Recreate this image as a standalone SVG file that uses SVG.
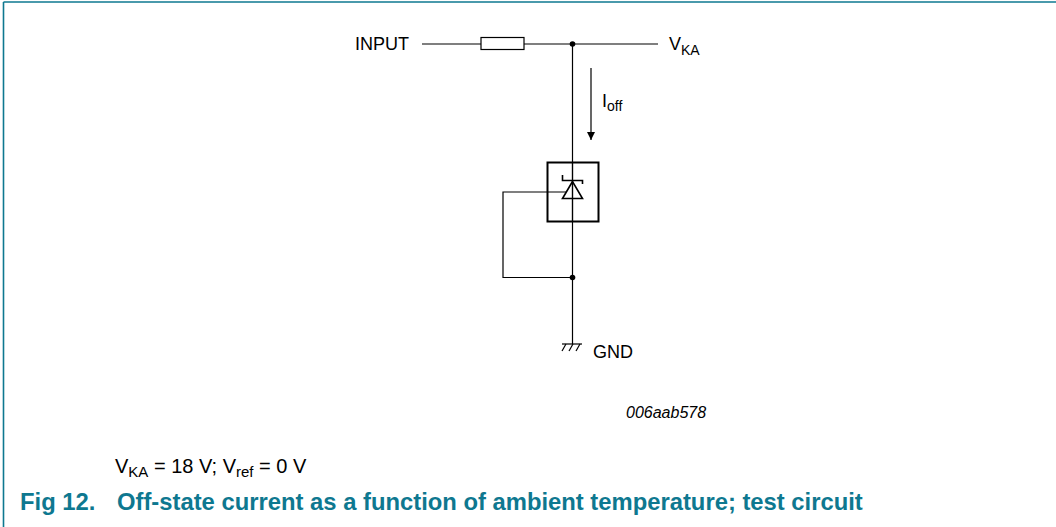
<svg xmlns="http://www.w3.org/2000/svg" width="1056" height="527" viewBox="0 0 1056 527">
<style>
.w{fill:none;stroke:#000;stroke-width:1.2}
.lbl{font-family:"Liberation Sans",Arial,sans-serif;font-size:18px;fill:#000}
.sub{font-size:14px}
.cap{font-family:"Liberation Sans",Arial,sans-serif;font-size:23.8px;font-weight:bold;fill:#0e7890}
.dot{fill:#000}
</style>
<defs>
<marker id="ah" viewBox="0 0 8 10" refX="8" refY="5" markerWidth="8" markerHeight="10" markerUnits="userSpaceOnUse" orient="auto">
<path d="M0,1 L8,5 L0,9 Z" fill="#000"/>
</marker>
</defs>
<rect x="0" y="0" width="1056" height="527" fill="#fff"/>
<g id="frame" fill="none" stroke="#0e7890" stroke-width="1.6">
<line x1="3.5" y1="2" x2="1056" y2="2"/>
<line x1="3.5" y1="2" x2="3.5" y2="527"/>
</g>
<g id="connectors">
<line class="w" x1="422" y1="44" x2="481" y2="44"/>
<line class="w" x1="524" y1="44" x2="658" y2="44"/>
<line class="w" x1="572.5" y1="44" x2="572.5" y2="344"/>
<polyline class="w" points="566,192 503,192 503,277.5 572.5,277.5"/>
<line class="w" x1="591" y1="68" x2="591" y2="140" marker-end="url(#ah)"/>
</g>
<g id="resistor">
<rect x="481" y="37.5" width="43" height="12" fill="#fff" stroke="#000" stroke-width="1.2"/>
</g>
<g id="junctions">
<circle class="dot" cx="572.5" cy="44" r="2.8"/>
<circle class="dot" cx="572.5" cy="277.5" r="2.8"/>
</g>
<g id="device">
<rect x="547.5" y="162.5" width="51" height="59" fill="none" stroke="#000" stroke-width="2"/>
<line class="w" x1="572.5" y1="162.5" x2="572.5" y2="221.5"/>
<polygon points="572.5,181.5 562.5,198.5 582.5,198.5" fill="none" stroke="#000" stroke-width="1.6"/>
<polyline points="562.5,175 562.5,180.5 582.5,180.5 582.5,184" fill="none" stroke="#000" stroke-width="1.6"/>
</g>
<g id="ground">
<line class="w" x1="562" y1="344" x2="582" y2="344"/>
<line class="w" x1="566" y1="344" x2="562" y2="351"/>
<line class="w" x1="573" y1="344" x2="569" y2="351"/>
<line class="w" x1="580" y1="344" x2="576" y2="351"/>
</g>
<g id="labels">
<text class="lbl" x="355" y="50">INPUT</text>
<text class="lbl" x="669" y="50">V<tspan class="sub" dy="5">KA</tspan></text>
<text class="lbl" x="602" y="107">I<tspan class="sub" dy="4">off</tspan></text>
<text class="lbl" x="593" y="358">GND</text>
<text class="lbl" x="626" y="418" style="font-size:16px;font-style:italic">006aab578</text>
<text class="lbl" x="115" y="473" style="font-size:20px">V<tspan class="sub" style="font-size:15px" dy="4">KA</tspan><tspan dy="-4"> = 18 V; V</tspan><tspan style="font-size:15px" dy="4">ref</tspan><tspan dy="-4"> = 0 V</tspan></text>
</g>
<g id="caption">
<text class="cap" x="20" y="510">Fig 12.</text>
<text class="cap" x="117" y="510">Off-state current as a function of ambient temperature; test circuit</text>
</g>
</svg>
